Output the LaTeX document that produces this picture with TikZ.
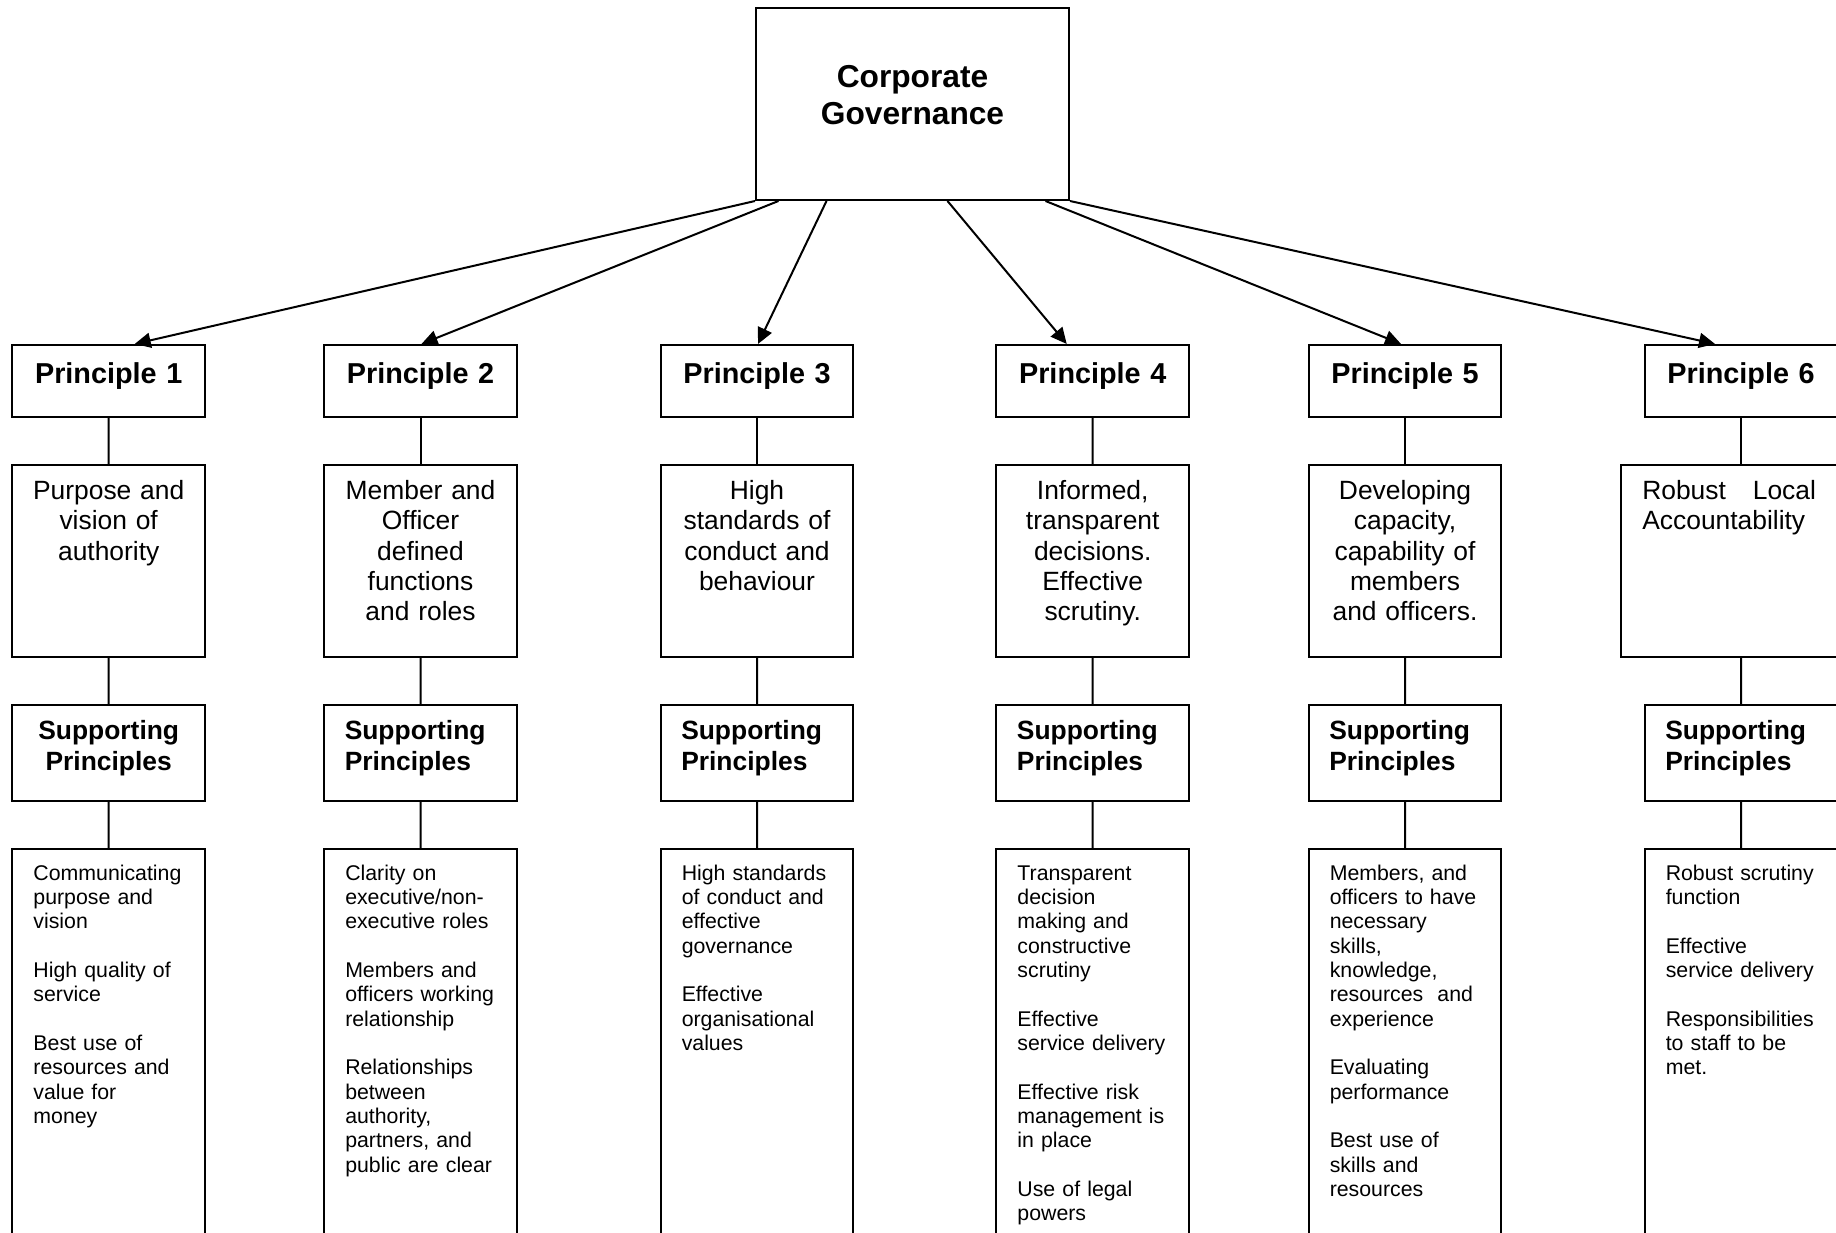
\documentclass[tikz,border=0pt]{standalone}
\usepackage{tikz}
\usepackage{xcolor}
\usepackage{fontspec}
\setmainfont{Liberation Sans}
\usetikzlibrary{arrows.meta}

\begin{document}
\begin{tikzpicture}[x=1pt,y=1pt,line width=1pt,
	level 1/.style={level distance=90pt},
	level 2/.style={level distance=96.1pt},
	level 3/.style={level distance=160.75pt},
	parent anchor=south,child anchor=north,
	boxed/.style={draw,inner ysep=0pt,align=center},
	headbox/.style={boxed,inner xsep=0pt,text width=156.5pt,text height=39.7pt,text depth=56.3pt,font=\fontsize{15.85}{18.3}\selectfont\bfseries},
	principle/.style={boxed,inner xsep=0pt,text width=96.25pt,text height=19.5pt,text depth=16.35pt,font=\fontsize{14.4}{17}\selectfont\bfseries},
	aim/.style={boxed,inner xsep=10.25pt,text width=75.75pt,text height=17.15pt,text depth=78.7pt,font=\fontsize{13.2}{15.2}\selectfont},
	support/.style={boxed,inner xsep=10.25pt,text width=75.75pt,text height=17.15pt,text depth=30.85pt,align=left,font=\fontsize{13.2}{15.7}\selectfont\bfseries},
	detail/.style={boxed,inner xsep=10.5pt,text width=75.25pt,text height=15.5pt,text depth=210pt,align=left,font=\fontsize{10.65}{12.17}\selectfont},
	pointer/.style={-{Triangle[length=8pt,width=7.5pt]}}]
	\useasboundingbox (0,0) rectangle (918,-616);
	\clip (0,0) rectangle (918,-616);
	
	\node [headbox] (cg) at (456.25,-52) {Corporate\\Governance};
	
	% the six columns
	\node [principle] (p1) at (54.35,-190.4) {Principle 1}
	child {node [aim] (a1) {Purpose and\\vision of\\authority}
		child {node [support,align=center] (s1) {Supporting\\Principles}
			child {node [detail] (d1) {Communicating\\purpose and\\vision\\[\baselineskip]
					High quality of\\service\\[\baselineskip]
					Best use of\\resources and\\value for\\money}
			}
		}
	};
	
	\node [principle] (p2) at (210.25,-190.4) {Principle 2}
	child {node [aim] (a2) {Member and\\Officer\\defined\\functions\\and roles}
		child {node [support] (s2) {Supporting\\Principles}
			child {node [detail] (d2) {Clarity on\\executive/non-\\executive roles\\[\baselineskip]
					Members and\\officers working\\relationship\\[\baselineskip]
					Relationships\\between\\authority,\\partners, and\\public are clear}
			}
		}
	};
	
	\node [principle] (p3) at (378.5,-190.4) {Principle 3}
	child {node [aim] (a3) {High\\standards of\\conduct and\\behaviour}
		child {node [support] (s3) {Supporting\\Principles}
			child {node [detail] (d3) {High standards\\of conduct and\\effective\\governance\\[\baselineskip]
					Effective\\organisational\\values}
			}
		}
	};
	
	\node [principle] (p4) at (546.35,-190.4) {Principle 4}
	child {node [aim] (a4) {Informed,\\transparent\\decisions.\\Effective\\scrutiny.}
		child {node [support] (s4) {Supporting\\Principles}
			child {node [detail] (d4) {Transparent\\decision\\making and\\constructive\\scrutiny\\[\baselineskip]
					Effective\\service delivery\\[\baselineskip]
					Effective risk\\management is\\in place\\[\baselineskip]
					Use of legal\\powers}
			}
		}
	};
	
	\node [principle] (p5) at (702.5,-190.4) {Principle 5}
	child {node [aim] (a5) {Developing\\capacity,\\capability of\\members\\and officers.}
		child {node [support] (s5) {Supporting\\Principles}
			child {node [detail] (d5) {Members, and\\officers to have\\necessary\\skills,\\knowledge,\\resources~ and\\experience\\[\baselineskip]
					Evaluating\\performance\\[\baselineskip]
					Best use of\\skills and\\resources}
			}
		}
	};
	
	\node [principle] (p6) at (870.5,-190.4) {Principle 6}
	child {node [aim,align=left,inner xsep=10.8pt,text width=98.7pt] (a6) {\makebox[86.85pt][s]{Robust\hfill Local}\\Accountability}
		child {node [support] (s6) {Supporting\\Principles}
			child {node [detail] (d6) {Robust scrutiny\\function\\[\baselineskip]
					Effective\\service delivery\\[\baselineskip]
					Responsibilities\\to staff to be\\met.}
			}
		}
	};
	
	% arrows from the top box
	\draw [pointer] (cg.south west) -- ([xshift=13pt]p1.north);
	\draw [pointer] ([xshift=11.75pt]cg.south west) -- ([xshift=0.5pt]p2.north);
	\draw [pointer] ([xshift=35.75pt]cg.south west) -- ([xshift=0.5pt]p3.north);
	\draw [pointer] ([xshift=96.25pt]cg.south west) -- ([xshift=-13pt]p4.north);
	\draw [pointer] ([xshift=145.25pt]cg.south west) -- ([xshift=-2pt]p5.north);
	\draw [pointer] (cg.south east) -- ([xshift=-13pt]p6.north);
	
\end{tikzpicture}
\end{document}
